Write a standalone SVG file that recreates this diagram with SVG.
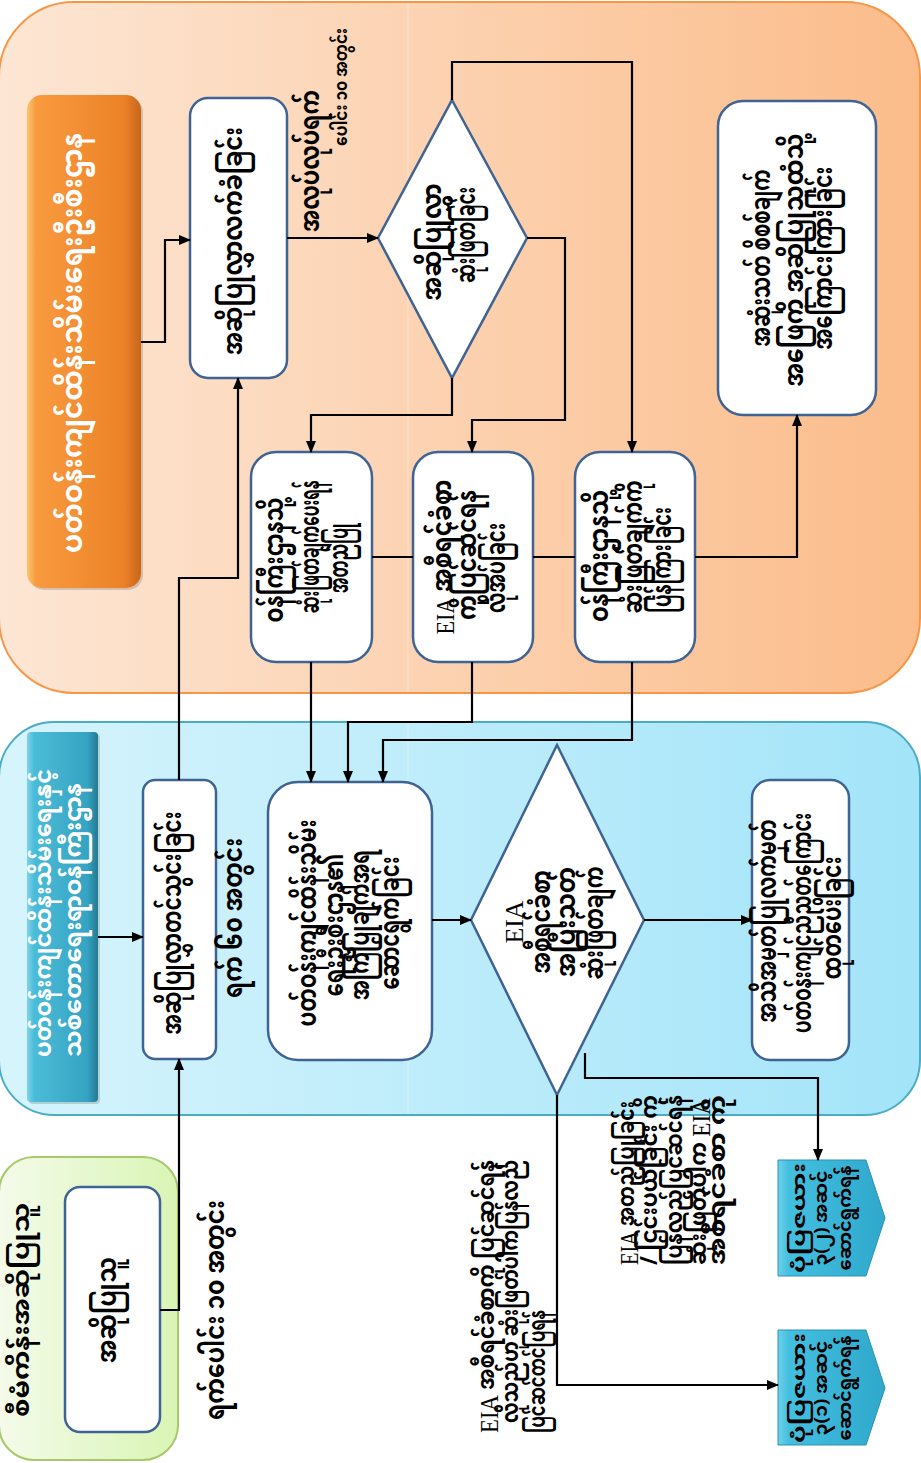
<svg xmlns="http://www.w3.org/2000/svg" width="921" height="1463" viewBox="0 0 921 1463">
<defs>
<linearGradient id="gOr" x1="0" y1="0" x2="1" y2="0"><stop offset="0" stop-color="#fde6d4"/><stop offset="1" stop-color="#fbbc8a"/></linearGradient>
<linearGradient id="gBl" x1="0" y1="0" x2="1" y2="0"><stop offset="0" stop-color="#d6f4fc"/><stop offset="1" stop-color="#a3e4f9"/></linearGradient>
<linearGradient id="gGr" x1="0" y1="0" x2="1" y2="0"><stop offset="0" stop-color="#f4fbea"/><stop offset="1" stop-color="#d9f5b4"/></linearGradient>
<linearGradient id="gOrL" x1="0" y1="0" x2="1" y2="0"><stop offset="0" stop-color="#fbc56e"/><stop offset="0.08" stop-color="#f99a3e"/><stop offset="0.85" stop-color="#ec8228"/><stop offset="1" stop-color="#c9651a"/></linearGradient>
<linearGradient id="gBlL" x1="0" y1="0" x2="1" y2="0"><stop offset="0" stop-color="#7fd3e8"/><stop offset="0.1" stop-color="#4bbcd8"/><stop offset="0.85" stop-color="#35a3c2"/><stop offset="1" stop-color="#237a92"/></linearGradient>
<linearGradient id="gPent" x1="0" y1="0" x2="1" y2="0"><stop offset="0" stop-color="#6fd0ea"/><stop offset="0.1" stop-color="#43bfe0"/><stop offset="1" stop-color="#2fa8cb"/></linearGradient>
<marker id="ar" markerUnits="userSpaceOnUse" markerWidth="12" markerHeight="10" refX="11" refY="5" orient="auto"><path d="M0,0 L12,5 L0,10 z" fill="#000"/></marker>
<style>
.lane{stroke-width:2}
.box{fill:#fff;stroke:#3f6393;stroke-width:2.5}
.c{fill:none;stroke:#000;stroke-width:2.2}
.a{marker-end:url(#ar)}
.m{font-family:'Noto Sans Myanmar','Padauk','Myanmar Text','Noto Sans',sans-serif;font-size:26px;font-weight:700;fill:#000;text-anchor:middle;dominant-baseline:central}
.s{text-anchor:start}
.n{font-size:23px}
.w{fill:#fff}
.e{font-family:'Liberation Serif',serif;font-weight:400;font-size:25px}
.sm{font-size:17px}
</style>
</defs>

<g id="lanes">
<rect x="-1" y="2" width="921" height="691" rx="75" fill="url(#gOr)" stroke="#f79646" class="lane"/>
<line x1="408" y1="3" x2="408" y2="692" stroke="#fff" stroke-opacity="0.35"/>
<rect x="-1" y="722" width="921" height="393" rx="55" fill="url(#gBl)" stroke="#4bacc6" class="lane"/>
<line x1="408" y1="723" x2="408" y2="1114" stroke="#fff" stroke-opacity="0.35"/>
<rect x="-1" y="1157" width="179" height="303" rx="35" fill="url(#gGr)" stroke="#a6c96a" class="lane"/>
</g>

<g id="label-orange">
<rect x="29" y="97" width="114" height="493" rx="15" fill="#000" opacity="0.15"/>
<rect x="27" y="95" width="114" height="493" rx="15" fill="url(#gOrL)"/>
<text class="m w" transform="translate(75,343) rotate(-90)" textLength="420" lengthAdjust="spacingAndGlyphs" style="font-size:28px">ပတ်ဝန်းကျင်ထိန်းသိမ်းရေးဦးစီးဌာန</text>
</g>

<g id="label-blue">
<rect x="29" y="734" width="71" height="370" rx="4" fill="#000" opacity="0.15"/>
<rect x="27" y="732" width="71" height="370" rx="4" fill="url(#gBlL)"/>
<text class="m w n" transform="translate(46,913) rotate(-90)" textLength="288" lengthAdjust="spacingAndGlyphs">ပတ်ဝန်းကျင်ထိန်းသိမ်းရေးနှင့်</text>
<text class="m w n" transform="translate(76,920) rotate(-90)" textLength="274" lengthAdjust="spacingAndGlyphs">သစ်တောရေးရာဝန်ကြီးဌာန</text>
</g>

<g id="label-green">
<text class="m n" transform="translate(24,1310) rotate(-90)" textLength="214" lengthAdjust="spacingAndGlyphs">စီမံကိန်းအဆိုပြုသူ</text>
</g>

<g id="n-proponent">
<rect class="box" x="65" y="1187" width="95" height="245" rx="15"/>
<text class="m" transform="translate(110,1310) rotate(-90)" textLength="106" lengthAdjust="spacingAndGlyphs">အဆိုပြုသူ</text>
</g>

<g id="n-receive">
<rect class="box" x="143" y="780" width="73" height="279" rx="12"/>
<text class="m" transform="translate(175,923) rotate(-90)" textLength="223" lengthAdjust="spacingAndGlyphs">အဆိုပြုလွှာတင်သွင်းခြင်း</text>
</g>

<g id="n-screen">
<rect class="box" x="190" y="98" width="97" height="280" rx="18"/>
<text class="m" transform="translate(236,241) rotate(-90)" textLength="228" lengthAdjust="spacingAndGlyphs">အဆိုပြုလွှာလက်ခံခြင်း</text>
</g>

<g id="n-decide">
<polygon class="box" points="452,100 527,238 452,378 378,238"/>
<text class="m" transform="translate(435,242) rotate(-90)" textLength="117" lengthAdjust="spacingAndGlyphs">အဆိုပြုလွှာ</text>
<text class="m" transform="translate(469,235) rotate(-90)" textLength="96" lengthAdjust="spacingAndGlyphs">ဆုံးဖြတ်ခြင်း</text>
</g>

<g id="n-notify">
<rect class="box" x="718" y="101" width="158" height="314" rx="25"/>
<text class="m" transform="translate(764,258) rotate(-90)" textLength="177" lengthAdjust="spacingAndGlyphs">အဆုံးသတ် စိစစ်ချက်</text>
<text class="m" transform="translate(797,260) rotate(-90)" textLength="253" lengthAdjust="spacingAndGlyphs">အဖြေကို အဆိုပြုသူထံသို့</text>
<text class="m" transform="translate(826,258) rotate(-90)" textLength="183" lengthAdjust="spacingAndGlyphs">အကြောင်းကြားခြင်း</text>
</g>

<g id="n-opt-a">
<rect class="box" x="251" y="452" width="121" height="210" rx="25"/>
<text class="m" transform="translate(277,560) rotate(-90)" textLength="125" lengthAdjust="spacingAndGlyphs">ဝန်ကြီးဌာနသို့</text>
<text class="m" transform="translate(313,547) rotate(-90)" textLength="133" lengthAdjust="spacingAndGlyphs">ဆုံးဖြတ်ချက်ပေးရန်</text>
<text class="m" transform="translate(342,558) rotate(-90)" textLength="70" lengthAdjust="spacingAndGlyphs">အတည်ပြု</text>
</g>

<g id="n-opt-b">
<rect class="box" x="413" y="452" width="120" height="210" rx="25"/>
<text class="m" transform="translate(445,557) rotate(-90)" textLength="155" lengthAdjust="spacingAndGlyphs"><tspan class="e">EIA</tspan> အစီရင်ခံစာ</text>
<text class="m" transform="translate(470,555) rotate(-90)" textLength="130" lengthAdjust="spacingAndGlyphs">ကိုပြင်ဆင်ရန်</text>
<text class="m" transform="translate(499,568) rotate(-90)" textLength="90" lengthAdjust="spacingAndGlyphs">လိုအပ်ခြင်း</text>
</g>

<g id="n-opt-c">
<rect class="box" x="575" y="452" width="120" height="210" rx="25"/>
<text class="m" transform="translate(602,556) rotate(-90)" textLength="132" lengthAdjust="spacingAndGlyphs">ဝန်ကြီးဌာနသို့</text>
<text class="m" transform="translate(636,547) rotate(-90)" textLength="133" lengthAdjust="spacingAndGlyphs">ဆုံးဖြတ်ချက်ကို</text>
<text class="m" transform="translate(665,560) rotate(-90)" textLength="106" lengthAdjust="spacingAndGlyphs">ပြန်ကြားခြင်း</text>
</g>

<g id="n-ministry">
<rect class="box" x="268" y="782" width="164" height="278" rx="30"/>
<text class="m" transform="translate(310,923) rotate(-90)" textLength="207" lengthAdjust="spacingAndGlyphs">ပတ်ဝန်းကျင်ထိန်းသိမ်း</text>
<text class="m" transform="translate(337,925) rotate(-90)" textLength="143" lengthAdjust="spacingAndGlyphs">ရေးဦးစီးဌာန၏</text>
<text class="m" transform="translate(363,925) rotate(-90)" textLength="150" lengthAdjust="spacingAndGlyphs">အကြံပြုချက်အရ</text>
<text class="m" transform="translate(393,923) rotate(-90)" textLength="133" lengthAdjust="spacingAndGlyphs">ဆောင်ရွက်ခြင်း</text>
</g>

<g id="n-eia-decision">
<polygon class="box" points="557,745 644,920 557,1095 471,920"/>
<text class="m e" transform="translate(514,922) rotate(-90)" textLength="43" lengthAdjust="spacingAndGlyphs">EIA</text>
<text class="m" transform="translate(544,922) rotate(-90)" textLength="103" lengthAdjust="spacingAndGlyphs">အစီရင်ခံစာ</text>
<text class="m" transform="translate(569,922) rotate(-90)" textLength="110" lengthAdjust="spacingAndGlyphs">အပြီးသတ်</text>
<text class="m" transform="translate(597,923) rotate(-90)" textLength="113" lengthAdjust="spacingAndGlyphs">ဆုံးဖြတ်ချက်</text>
</g>

<g id="n-ecc">
<rect class="box" x="752" y="780" width="97" height="280" rx="18"/>
<text class="m" transform="translate(770,921) rotate(-90)" textLength="203" lengthAdjust="spacingAndGlyphs">အသိအမှတ်ပြုလက်မှတ်</text>
<text class="m" transform="translate(805,923) rotate(-90)" textLength="220" lengthAdjust="spacingAndGlyphs">ပတ်ဝန်းကျင်ညီညွတ်ကြောင်း</text>
<text class="m" transform="translate(835,918) rotate(-90)" textLength="123" lengthAdjust="spacingAndGlyphs">ထုတ်ပေးခြင်း</text>
</g>

<g id="n-next-2">
<path d="M778,1160 H866 L885,1218 L866,1276 H778 Z" fill="url(#gPent)" stroke="#2a93b3" stroke-width="1"/>
<text class="m sm" transform="translate(801,1218) rotate(-90)" textLength="110" lengthAdjust="spacingAndGlyphs">ပုံပြဇယား</text>
<text class="m sm" transform="translate(823,1218) rotate(-90)" textLength="95" lengthAdjust="spacingAndGlyphs">၃(၂) အဆင့်</text>
<text class="m sm" transform="translate(847,1218) rotate(-90)" textLength="105" lengthAdjust="spacingAndGlyphs">ဆောင်ရွက်ရန်</text>
</g>

<g id="n-next-1">
<path d="M778,1330 H866 L885,1388 L866,1445 H778 Z" fill="url(#gPent)" stroke="#2a93b3" stroke-width="1"/>
<text class="m sm" transform="translate(801,1388) rotate(-90)" textLength="110" lengthAdjust="spacingAndGlyphs">ပုံပြဇယား</text>
<text class="m sm" transform="translate(823,1388) rotate(-90)" textLength="95" lengthAdjust="spacingAndGlyphs">၃(၁) အဆင့်</text>
<text class="m sm" transform="translate(847,1388) rotate(-90)" textLength="105" lengthAdjust="spacingAndGlyphs">ဆောင်ရွက်ရန်</text>
</g>

<g id="connectors">
<path class="c a" d="M141,342 H165 V240 H190"/>
<path class="c a" d="M287,238 H378"/>
<path class="c a" d="M452,100 V62 H632 V452"/>
<path class="c a" d="M527,238 H565 V420 H472 V452"/>
<path class="c a" d="M452,378 V415 H311 V452"/>
<path class="c" d="M372,557 H413"/>
<path class="c" d="M533,557 H575"/>
<path class="c a" d="M695,557 H797 V415"/>
<path class="c a" d="M311,662 V782"/>
<path class="c a" d="M472,662 V722 H348 V782"/>
<path class="c a" d="M632,662 V740 H383 V782"/>
<path class="c a" d="M179,780 V578 H238 V378"/>
<path class="c a" d="M98,937 H143"/>
<path class="c a" d="M160,1310 H179 V1059"/>
<path class="c a" d="M432,920 H471"/>
<path class="c a" d="M644,920 H752"/>
<path class="c a" d="M585,1053 V1078 H818 V1160"/>
<path class="c a" d="M557,1095 V1385 H778"/>
</g>

<g id="annotations">
<text class="m s" transform="translate(313,232) rotate(-90)" textLength="142" lengthAdjust="spacingAndGlyphs">အလုပ်လုပ်ရက်</text>
<text class="m s" transform="translate(342,146) rotate(-90)" textLength="118" lengthAdjust="spacingAndGlyphs" style="font-size:18px">ပေါင်း ၁၀ အတွင်း</text>
<text class="m s" transform="translate(236,998) rotate(-90)" textLength="160" lengthAdjust="spacingAndGlyphs">ရက် ၆၀ အတွင်း</text>
<text class="m s" transform="translate(218,1420) rotate(-90)" textLength="220" lengthAdjust="spacingAndGlyphs">ရက်ပေါင်း ၁၀ အတွင်း</text>
<text class="m s n" transform="translate(489,1433) rotate(-90)" textLength="273" lengthAdjust="spacingAndGlyphs"><tspan class="e">EIA</tspan>  အစီရင်ခံစာကို ပြင်ဆင်ရန်</text>
<text class="m s n" transform="translate(513,1423) rotate(-90)" textLength="263" lengthAdjust="spacingAndGlyphs">လိုသည်ဟု ဆုံးဖြတ်ပါကပြန်လည်</text>
<text class="m s n" transform="translate(540,1433) rotate(-90)" textLength="123" lengthAdjust="spacingAndGlyphs">ပြင်ဆင်တင်ပြရန်</text>
<text class="m s n" transform="translate(629,1265) rotate(-90)" textLength="164" lengthAdjust="spacingAndGlyphs"><tspan class="e">EIA</tspan> အတည်ပြုခြင်း</text>
<text class="m s n" transform="translate(652,1265) rotate(-90)" textLength="170" lengthAdjust="spacingAndGlyphs">/ ငြင်းပယ်ခြင်း  ကို</text>
<text class="m s n" transform="translate(677,1265) rotate(-90)" textLength="170" lengthAdjust="spacingAndGlyphs">ပြန်လည်ပြင်ဆင်ရန်</text>
<text class="m s n" transform="translate(701,1265) rotate(-90)" textLength="167" lengthAdjust="spacingAndGlyphs">ဆုံးဖြတ်ပါက <tspan class="e">EIA</tspan></text>
<text class="m s n" transform="translate(720,1265) rotate(-90)" textLength="170" lengthAdjust="spacingAndGlyphs">အစီရင်ခံစာ  ကို</text>
</g>
</svg>
